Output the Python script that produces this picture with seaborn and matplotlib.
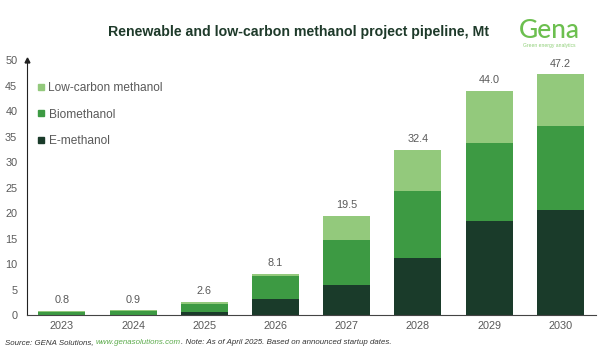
import matplotlib
matplotlib.use('Agg')
import matplotlib.pyplot as plt
import seaborn as sns
import numpy as np
import pandas as pd
from matplotlib.lines import Line2D

years = ['2023', '2024', '2025', '2026', '2027', '2028', '2029', '2030']
e_methanol = [0.05, 0.05, 0.5, 3.1, 5.9, 11.1, 18.5, 20.5]
biomethanol = [0.6, 0.7, 1.7, 4.5, 8.9, 13.2, 15.3, 16.6]
low_carbon = [0.15, 0.15, 0.4, 0.5, 4.7, 8.1, 10.2, 10.1]
totals = [0.8, 0.9, 2.6, 8.1, 19.5, 32.4, 44.0, 47.2]

c_dark = '#1a3b2a'
c_mid = '#3d9a43'
c_light = '#93c97c'
c_text = '#595959'

sns.set_style('white')
plt.rcParams['font.family'] = ['Liberation Sans', 'DejaVu Sans']

df = pd.DataFrame({'Year': years, 'E': e_methanol, 'Bio': biomethanol, 'Low': low_carbon})
bottom_bio = df['E'].values
bottom_low = (df['E'] + df['Bio']).values

fig = plt.figure(figsize=(6, 3.52), dpi=100)
ax = fig.add_axes([0.045, 0.105, 0.948, 0.7245])

sns.barplot(data=df, x='Year', y='E', color=c_dark, width=0.66, ax=ax, saturation=1, linewidth=0)
sns.barplot(data=df, x='Year', y='Bio', color=c_mid, width=0.66, ax=ax, saturation=1,
            bottom=bottom_bio, linewidth=0)
sns.barplot(data=df, x='Year', y='Low', color=c_light, width=0.66, ax=ax, saturation=1,
            bottom=bottom_low, linewidth=0)

for i, t in enumerate(totals):
    ax.annotate(f'{t:.1f}', (i, t), xytext=(0, 4), textcoords='offset points',
                ha='center', va='bottom', fontsize=7.8, color=c_text)

ax.set_xlim(-0.49, 7.5)
ax.set_ylim(0, 50)
ax.set_yticks(range(0, 51, 5))
ax.set_xlabel('')
ax.set_ylabel('')
ax.tick_params(axis='both', length=0, labelsize=7.8, labelcolor=c_text)
ax.tick_params(axis='y', pad=7)
ax.tick_params(axis='x', pad=4)
for s in ['top', 'right']:
    ax.spines[s].set_visible(False)
ax.spines['left'].set_color('#222222')
ax.spines['left'].set_linewidth(0.8)
ax.spines['bottom'].set_color('#444444')
ax.spines['bottom'].set_linewidth(0.8)
ax.plot(0, 1.0, marker='^', color='#222222', markersize=3.5, transform=ax.transAxes, clip_on=False)

handles = [Line2D([], [], marker='s', linestyle='', color=c, markersize=4.5)
           for c in [c_light, c_mid, c_dark]]
ax.legend(handles, ['Low-carbon methanol', 'Biomethanol', 'E-methanol'],
          loc='upper left', bbox_to_anchor=(0.0, 0.955), frameon=False,
          fontsize=8.6, labelspacing=1.2, handlelength=0.6, handletextpad=0.3,
          labelcolor=c_text)

fig.text(0.497, 0.909, 'Renewable and low-carbon methanol project pipeline, Mt',
         ha='center', va='center', fontsize=10.2, fontweight='bold', color='#1e3a2a')

fig.text(0.915, 0.912, 'Gena', ha='center', va='center', fontsize=19, color='#6cbf4f',
         family=['Lato', 'DejaVu Sans'], fontweight='medium')
fig.text(0.915, 0.870, 'Green energy analytics', ha='center', va='center',
         fontsize=3.6, color='#8fcf78')

t1 = fig.text(0.008, 0.026, 'Source: GENA Solutions, ', fontsize=5.7, style='italic',
              color='#333333', va='center')
t2 = ax.annotate('www.genasolutions.com', xy=(1, 0), xycoords=t1, va='bottom',
                 fontsize=5.7, style='italic', color='#5aaa4a')
ax.annotate('. Note: As of April 2025. Based on announced startup dates.', xy=(1, 0),
            xycoords=t2, va='bottom', fontsize=5.7, style='italic', color='#333333')

fig.savefig('out.png', dpi=100)
